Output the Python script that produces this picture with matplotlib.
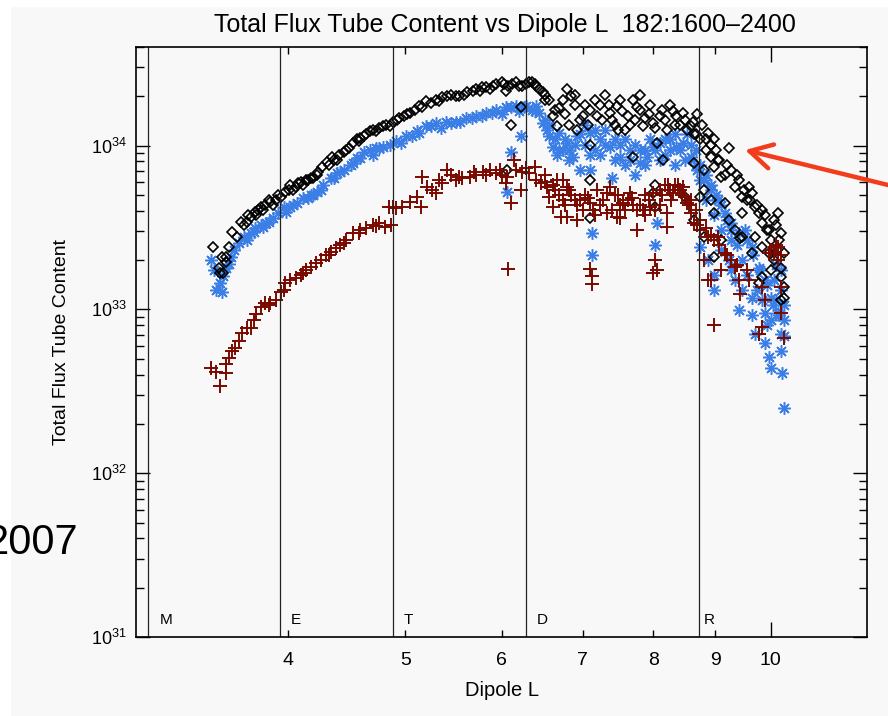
import numpy as np
import matplotlib
matplotlib.use('Agg')
import matplotlib.pyplot as plt
from matplotlib import font_manager
from matplotlib.patches import Rectangle

# fonts: narrow helvetica look if available
names = {f.name for f in font_manager.fontManager.ttflist}
narrow = 'Liberation Sans Narrow' if 'Liberation Sans Narrow' in names else 'Liberation Sans'
plt.rcParams['font.family'] = [narrow, 'DejaVu Sans']
plt.rcParams['mathtext.fontset'] = 'custom'
plt.rcParams['mathtext.rm'] = narrow

title = 'Total Flux Tube Content vs Dipole L  182:1600\u20132400'

# region boundaries (dipole L) and their letters
bound_L = [3.07, 3.94, 4.88, 6.28, 8.73]
bound_names = ['M', 'E', 'T', 'D', 'R']

x_minor = [4, 5, 6, 7, 8, 9]
x_major = [10]
y_major = [1e31, 1e32, 1e33, 1e34]
y_labels = [r'$10^{31}$', r'$10^{32}$', r'$10^{33}$', r'$10^{34}$']

# black diamonds: dipole L, flux content (units of 1e33)
dia_L = [3.47, 3.53, 3.51, 3.56, 3.52, 3.54, 3.56, 3.58, 3.60, 3.63,
         3.66, 3.68, 3.70, 3.73, 3.76, 3.77, 3.80, 3.82, 3.83, 3.87,
         3.89, 3.91, 3.95, 3.98, 4.02, 4.04, 4.06, 4.10, 4.12, 4.14,
         4.18, 4.20, 4.23, 4.27, 4.31, 4.35, 4.39, 4.41, 4.45, 4.49,
         4.53, 4.56, 4.59, 4.64, 4.68, 4.70, 4.76, 4.79, 4.82, 4.88,
         4.94, 4.99, 5.04, 5.09, 5.13, 5.20, 5.25, 5.30, 5.36, 5.41,
         5.45, 5.54, 5.62, 5.68, 5.72, 5.78, 5.83, 5.90, 5.94, 6.00,
         6.05, 6.06, 6.08, 6.11, 6.17, 6.23, 6.24, 6.32, 6.39, 6.41,
         6.49, 6.52, 6.56, 6.61, 6.66, 6.69, 6.74, 6.79, 6.85, 6.90,
         6.92, 6.96, 7.00, 7.09, 7.09, 7.09, 7.09, 7.19, 7.23, 7.30,
         7.37, 7.40, 7.47, 7.48, 7.54, 7.62, 7.66, 7.70, 7.70, 7.76,
         7.80, 7.85, 7.93, 8.00, 8.00, 8.03, 8.03, 8.06, 8.11, 8.15,
         8.21, 8.26, 8.30, 8.36, 8.42, 8.47, 8.50, 8.53, 8.59, 8.64,
         8.64, 8.64, 8.70, 8.75, 8.75, 8.81, 8.81, 8.81, 8.84, 8.87,
         8.93, 8.93, 8.98, 8.98, 8.98, 8.98, 9.05, 9.10, 9.10, 9.16,
         9.16, 9.23, 9.23, 9.28, 9.34, 9.34, 9.41, 9.43, 9.46, 9.46,
         9.46, 9.56, 9.59, 9.64, 9.64, 9.70, 9.70, 9.77, 9.77, 9.83,
         9.83, 9.83, 9.89, 9.96, 9.96, 10.0, 10.0, 10.06, 10.06, 10.12,
         10.14, 10.19, 10.19, 10.19, 10.19, 10.25, 10.25, 10.25,
         6.52, 6.64, 6.77, 6.82, 6.90, 7.03, 7.07, 7.16, 7.26, 7.35,
         7.44, 7.51, 7.59, 7.73, 7.80, 7.88, 7.95, 8.03, 8.13, 8.18,
         8.33, 8.50, 8.62, 8.67, 8.78, 8.84, 8.93, 9.02, 9.07, 9.20,
         9.38, 9.50, 9.61, 9.74, 9.83, 9.92, 10.10, 10.15,
         3.71, 3.78, 3.86, 3.93, 4.01, 4.08, 4.16, 4.24, 4.33, 4.37,
         4.47, 4.58, 4.62, 4.73, 4.86, 4.92, 5.02, 5.16, 5.33, 5.50,
         5.59, 5.76, 5.87, 6.03, 6.12, 6.20, 6.29, 6.36, 6.44]
dia_flux = [2.40, 2.09, 1.80, 1.94, 1.66, 1.67, 2.09, 2.40, 2.97, 2.76,
            3.42, 3.28, 3.42, 3.66, 3.93, 3.77, 4.21, 4.05, 4.34, 4.53,
            4.34, 4.66, 4.87, 5.22, 5.76, 5.37, 5.60, 6.01, 5.76, 6.18,
            6.36, 6.36, 6.64, 7.42, 7.97, 8.57, 8.21, 8.81, 9.19, 9.72,
            10.4, 10.9, 11.2, 11.7, 12.2, 12.5, 12.9, 13.1, 13.4, 14.0,
            14.8, 15.1, 15.9, 16.6, 17.4, 18.6, 18.3, 19.1, 19.7, 20.0,
            20.5, 20.0, 21.3, 21.7, 22.1, 22.7, 22.7, 23.0, 23.7, 24.3,
            21.4, 7.12, 23.0, 13.4, 24.3, 17.1, 23.0, 24.3, 23.7, 23.0,
            21.3, 20.5, 19.1, 15.1, 13.1, 16.9, 19.1, 22.1, 20.0, 17.8,
            12.5, 14.4, 15.1, 16.6, 10.1, 6.18, 3.61, 15.1, 17.8, 20.5,
            15.9, 14.4, 17.4, 12.5, 16.2, 15.1, 13.4, 19.1, 8.57, 17.1,
            16.6, 13.1, 15.5, 13.8, 5.14, 5.76, 4.21, 10.4, 15.1, 8.21,
            12.5, 17.8, 16.2, 15.1, 13.4, 15.9, 4.87, 12.5, 13.1, 11.7,
            7.87, 3.52, 15.5, 10.9, 4.87, 7.12, 5.37, 2.76, 9.45, 12.0,
            8.57, 4.66, 10.9, 7.42, 3.87, 2.09, 8.21, 6.45, 2.65, 6.64,
            4.47, 9.72, 3.52, 7.12, 5.60, 3.05, 6.18, 2.72, 4.87, 3.87,
            2.76, 4.66, 5.60, 5.14, 2.21, 4.21, 2.76, 3.87, 1.45, 3.37,
            2.40, 1.57, 3.77, 3.05, 2.21, 2.65, 1.73, 3.52, 2.00, 2.30,
            3.87, 2.92, 1.80, 1.57, 1.14, 2.21, 1.37, 1.18,
            19.1, 16.6, 15.5, 13.4, 20.5, 17.8, 13.4, 19.1, 14.4, 17.8,
            13.4, 19.1, 12.5, 14.4, 20.5, 14.8, 17.8, 12.9, 16.6, 14.4,
            13.4, 14.4, 14.0, 11.7, 13.4, 10.9, 10.1, 9.45, 8.21, 7.65,
            6.64, 5.37, 4.66, 4.34, 4.05, 3.05, 3.28, 2.65,
            3.77, 4.05, 4.66, 5.00, 5.37, 5.93, 6.18, 6.93, 7.65, 8.21,
            9.45, 10.6, 11.4, 12.2, 13.1, 14.4, 15.5, 17.1, 18.8, 20.0,
            20.5, 21.7, 22.1, 23.7, 23.7, 23.0, 23.7, 24.3, 22.1]

# blue asterisks
ast_L = [3.46, 3.48, 3.49, 3.52, 3.53, 3.54, 3.56, 3.58, 3.59, 3.61,
         3.65, 3.68, 3.70, 3.73, 3.76, 3.80, 3.82, 3.84, 3.89, 3.93,
         3.97, 3.99, 4.02, 4.07, 4.12, 4.18, 4.20, 4.23, 4.28, 4.34,
         4.37, 4.39, 4.45, 4.51, 4.53, 4.56, 4.62, 4.68, 4.70, 4.73,
         4.79, 4.86, 4.91, 4.96, 5.01, 5.11, 5.13, 5.20, 5.30, 5.35,
         5.40, 5.50, 5.55, 5.61, 5.72, 5.78, 5.83, 5.94, 6.00, 6.05,
         6.06, 6.11, 6.17, 6.20, 6.23, 6.29, 6.36, 6.41, 6.44, 6.49,
         6.54, 6.56, 6.61, 6.69, 6.69, 6.74, 6.79, 6.82, 6.87, 6.92,
         6.96, 7.03, 7.09, 7.09, 7.12, 7.12, 7.16, 7.23, 7.30, 7.37,
         7.40, 7.44, 7.51, 7.59, 7.66, 7.73, 7.80, 7.88, 7.91, 8.00,
         8.03, 8.06, 8.11, 8.18, 8.26, 8.33, 8.36, 8.47, 8.53, 8.59,
         8.67, 8.70, 8.75, 8.75, 8.81, 8.84, 8.87, 8.93, 8.97, 8.97,
         8.98, 9.05, 9.10, 9.10, 9.16, 9.23, 9.28, 9.28, 9.28, 9.34,
         9.41, 9.41, 9.46, 9.46, 9.52, 9.56, 9.64, 9.64, 9.64, 9.70,
         9.74, 9.77, 9.83, 9.89, 9.89, 9.89, 9.92, 9.96, 10.0, 10.0,
         10.0, 10.06, 10.10, 10.10, 10.14, 10.19, 10.19, 10.19, 10.19, 10.22,
         10.25, 10.25, 10.25,
         6.52, 6.56, 6.64, 6.67, 6.77, 6.82, 6.90, 6.96, 7.03, 7.09,
         7.16, 7.23, 7.30, 7.44, 7.51, 7.59, 7.66, 7.73, 7.80, 7.88,
         7.95, 8.03, 8.11, 8.18, 8.26, 8.33, 8.42, 8.50, 8.59, 8.67,
         8.75, 8.84, 8.93, 9.02, 9.10, 9.20, 9.28, 9.38, 9.56, 9.67,
         9.79, 9.92, 10.04, 10.15, 10.25,
         3.75, 3.86, 4.04, 4.16, 4.26, 4.42, 4.59, 4.76, 5.06, 5.25,
         5.45, 5.67, 5.89, 6.11, 6.26, 6.39]
ast_flux = [2.00, 1.73, 1.31, 1.45, 1.27, 1.59, 1.80, 1.89, 2.09, 2.30,
            2.53, 2.76, 2.65, 2.92, 3.14, 3.28, 3.19, 3.37, 3.61, 3.87,
            4.21, 3.93, 4.21, 4.47, 4.80, 5.00, 5.00, 5.22, 5.76, 6.36,
            6.36, 6.82, 7.12, 7.65, 7.87, 8.45, 9.08, 9.45, 8.81, 9.72,
            9.86, 10.1, 10.6, 10.4, 11.4, 12.2, 12.0, 13.1, 13.8, 12.9,
            14.0, 14.0, 14.0, 14.8, 15.1, 15.1, 15.9, 16.6, 15.5, 17.1,
            5.22, 9.08, 17.4, 16.2, 11.4, 17.4, 16.6, 17.4, 15.9, 13.8,
            12.5, 11.4, 9.86, 9.45, 12.0, 9.45, 10.4, 8.21, 8.57, 11.4,
            7.12, 13.4, 12.0, 7.12, 2.92, 2.14, 9.45, 10.9, 12.5, 9.86,
            6.36, 8.21, 8.57, 10.9, 8.21, 6.64, 7.87, 9.45, 8.57, 9.86,
            2.47, 3.37, 10.4, 8.81, 10.9, 7.65, 9.86, 10.4, 11.7, 8.57,
            9.45, 7.12, 7.65, 2.40, 6.18, 4.66, 2.00, 5.37, 3.77, 1.31,
            1.62, 4.66, 3.05, 2.30, 3.87, 2.00, 3.37, 2.65, 1.73, 1.51,
            2.92, 0.986, 2.00, 1.31, 3.05, 1.62, 2.40, 1.18, 0.92, 0.712,
            1.31, 1.80, 1.14, 1.51, 0.95, 0.62, 0.80, 0.51, 1.18, 0.86,
            0.44, 1.51, 1.86, 1.14, 0.95, 1.73, 1.31, 0.71, 0.56, 0.41,
            0.86, 0.69, 0.25,
            14.4, 13.4, 10.9, 8.81, 10.9, 9.45, 10.1, 11.7, 10.1, 8.81,
            12.5, 8.81, 10.1, 10.9, 10.1, 7.65, 9.45, 10.1, 9.45, 7.65,
            10.9, 9.45, 8.21, 10.9, 9.45, 11.7, 9.45, 8.21, 10.1, 7.65,
            6.18, 6.64, 5.76, 5.00, 4.34, 3.52, 3.05, 2.47, 2.65, 2.14,
            1.73, 1.40, 1.06, 0.92, 1.06,
            2.97, 3.42, 4.34, 4.80, 5.37, 6.93, 8.45, 9.72, 11.5, 13.1,
            13.8, 14.8, 15.9, 17.1, 17.1, 16.2]

# dark red plus signs
plus_L = [3.46, 3.49, 3.52, 3.56, 3.56, 3.58, 3.60, 3.62, 3.65, 3.67,
          3.70, 3.73, 3.75, 3.77, 3.80, 3.83, 3.86, 3.87, 3.91, 3.95,
          3.97, 3.98, 4.02, 4.06, 4.10, 4.12, 4.14, 4.18, 4.22, 4.26,
          4.30, 4.33, 4.34, 4.38, 4.42, 4.45, 4.47, 4.53, 4.58, 4.59,
          4.64, 4.70, 4.73, 4.76, 4.81, 4.85, 4.87, 4.88, 4.91, 4.97,
          5.04, 5.11, 5.15, 5.16, 5.21, 5.26, 5.30, 5.33, 5.36, 5.41,
          5.45, 5.50, 5.54, 5.57, 5.65, 5.70, 5.72, 5.79, 5.83, 5.87,
          5.94, 5.98, 6.00, 6.05, 6.06, 6.08, 6.11, 6.14, 6.17, 6.23,
          6.24, 6.29, 6.32, 6.39, 6.41, 6.47, 6.52, 6.54, 6.56, 6.61,
          6.64, 6.67, 6.72, 6.74, 6.74, 6.79, 6.79, 6.82, 6.90, 6.92,
          6.96, 7.00, 7.03, 7.09, 7.09, 7.12, 7.12, 7.16, 7.19, 7.23,
          7.33, 7.33, 7.37, 7.44, 7.47, 7.51, 7.51, 7.56, 7.62, 7.66,
          7.70, 7.76, 7.76, 7.85, 7.88, 7.88, 7.95, 8.00, 8.00, 8.03,
          8.06, 8.11, 8.11, 8.18, 8.21, 8.21, 8.26, 8.30, 8.33, 8.42,
          8.47, 8.50, 8.53, 8.59, 8.59, 8.64, 8.70, 8.75, 8.81, 8.87,
          8.87, 8.93, 8.97, 8.98, 9.05, 9.10, 9.16, 9.28, 9.34, 9.41,
          9.43, 9.59, 9.77, 9.83, 9.83, 9.89, 9.96, 10.06, 10.14, 10.14,
          10.19, 10.19, 10.25,
          6.52, 6.62, 6.69, 6.77, 6.85, 6.93, 7.07, 7.14, 7.27, 7.40,
          7.48, 7.59, 7.69, 7.80, 7.93, 8.03, 8.13, 8.23, 8.28, 8.39,
          8.45, 8.56, 8.67, 8.75, 8.84, 8.93, 9.07, 9.20, 9.38, 9.56,
          10.0, 10.10, 10.19]
plus_flux = [0.437, 0.416, 0.342, 0.410, 0.465, 0.505, 0.560, 0.582, 0.645, 0.722,
             0.775, 0.765, 0.856, 0.943, 1.03, 1.10, 1.06, 1.09, 1.14, 1.27,
             1.31, 1.44, 1.51, 1.55, 1.62, 1.66, 1.73, 1.81, 1.92, 2.00,
             2.14, 2.14, 2.24, 2.36, 2.47, 2.53, 2.65, 2.92, 2.92, 3.05,
             3.14, 3.28, 3.23, 3.37, 3.19, 4.21, 3.28, 4.21, 4.15, 4.21,
             4.53, 4.87, 4.21, 6.45, 5.60, 5.37, 5.14, 6.18, 5.93, 7.12,
             6.64, 6.18, 6.45, 6.36, 6.45, 6.93, 6.64, 6.93, 6.64, 7.12,
             6.82, 7.12, 6.64, 5.93, 6.45, 1.77, 4.47, 8.21, 7.12, 5.37,
             6.93, 7.32, 6.82, 7.42, 6.18, 5.93, 6.64, 5.60, 4.87, 4.21,
             5.37, 6.18, 3.66, 4.66, 6.18, 5.60, 3.66, 5.37, 4.66, 3.52,
             4.66, 4.05, 5.00, 4.47, 1.76, 1.59, 1.42, 3.77, 5.37, 4.34,
             5.14, 3.87, 5.60, 5.00, 3.66, 4.34, 3.61, 4.47, 4.66, 5.14,
             4.34, 4.05, 3.05, 4.05, 5.00, 3.77, 4.21, 5.14, 1.67, 2.00,
             1.73, 5.37, 4.34, 5.76, 3.87, 3.19, 5.37, 5.14, 5.76, 5.37,
             5.60, 4.87, 4.47, 3.87, 4.66, 3.37, 3.28, 3.05, 2.00, 2.76,
             1.51, 1.51, 0.80, 2.65, 2.76, 1.73, 2.21, 2.00, 1.81, 1.51,
             1.25, 1.51, 0.71, 1.37, 0.78, 1.14, 2.21, 2.21, 2.40, 2.00,
             1.37, 0.95, 0.67,
             6.01, 5.76, 5.00, 4.34, 5.00, 4.34, 4.80, 4.05, 4.66, 4.05,
             5.00, 4.05, 4.80, 4.34, 4.66, 4.05, 5.00, 5.76, 4.66, 5.76,
             5.00, 4.34, 4.05, 3.52, 3.14, 2.84, 2.47, 2.14, 1.86, 1.73,
             2.30, 2.47, 2.14]

bg = '#f8f8f8'
fig = plt.figure(figsize=(8.88, 7.16), dpi=100, facecolor=bg)
# thin white border of the slide
fig.add_artist(Rectangle((0, 0), 10 / 888, 1, transform=fig.transFigure,
                         color='white', zorder=0))
fig.add_artist(Rectangle((0, 1 - 6 / 716), 1, 6 / 716, transform=fig.transFigure,
                         color='white', zorder=0))

ax = fig.add_axes([136 / 888, 1 - 637 / 716, 731 / 888, 590 / 716])
ax.set_facecolor(bg)
ax.set_xscale('log')
ax.set_yscale('log')

ax.plot(ast_L, np.array(ast_flux) * 1e33, ls='none', marker=(8, 2, 0), ms=9,
        mew=1.1, color='#3b7fe6')
ax.plot(dia_L, np.array(dia_flux) * 1e33, ls='none', marker='D', ms=5.3,
        mfc='none', mec='black', mew=1.2)
ax.plot(plus_L, np.array(plus_flux) * 1e33, ls='none', marker='+', ms=10,
        mew=1.4, color='#7a0a00')

for L in bound_L:
    ax.axvline(L, color='#222222', lw=0.9)
offs = [8, 8, 8, 8, 3]
for L, name, dx in zip(bound_L, bound_names, offs):
    ax.annotate(name, (L, 1e31), xytext=(dx, 12), textcoords='offset points',
                ha='left', va='center', fontsize=11)

ax.set_xlim(3, 12)
ax.set_ylim(1e31, 4e34)
ax.set_xticks(x_major, [str(v) for v in x_major])
ax.set_xticks(x_minor, [str(v) for v in x_minor], minor=True)
ax.set_yticks(y_major, y_labels)
ax.yaxis.set_minor_formatter(matplotlib.ticker.NullFormatter())

ax.tick_params(axis='x', which='both', direction='in', top=True, bottom=True,
               labelsize=14, pad=11, width=1)
ax.tick_params(axis='x', which='major', length=11)
ax.tick_params(axis='x', which='minor', length=5)
ax.tick_params(axis='y', which='both', direction='in', left=True, right=True,
               labelsize=13, pad=6.5, width=1)
ax.tick_params(axis='y', which='major', length=10)
ax.tick_params(axis='y', which='minor', length=6)
for s in ax.spines.values():
    s.set_linewidth(1.2)

ax.set_xlabel('Dipole L', fontsize=14.5)
ax.xaxis.set_label_coords(0.5, -0.074)
ax.set_ylabel('Total Flux Tube Content', fontsize=14)
ax.yaxis.set_label_coords(-0.09, 0.5)

fig.text(505 / 888, 1 - 25 / 716, title, ha='center', va='center', fontsize=18)
fig.text(78 / 888, 1 - 543 / 716, '2007', ha='right', va='center', fontsize=30,
         family='Liberation Sans')

# red arrow coming in from the right edge
ax.annotate('', xy=(745 / 888, 1 - 150 / 716), xycoords='figure fraction',
            xytext=(1.0, 1 - 185 / 716), textcoords='figure fraction',
            annotation_clip=False,
            arrowprops=dict(arrowstyle='->,head_length=1.0,head_width=0.55',
                            color='#f33c1c', lw=3.2, mutation_scale=16,
                            shrinkA=0, shrinkB=0))

fig.savefig('out.png', dpi=100, facecolor=bg)
